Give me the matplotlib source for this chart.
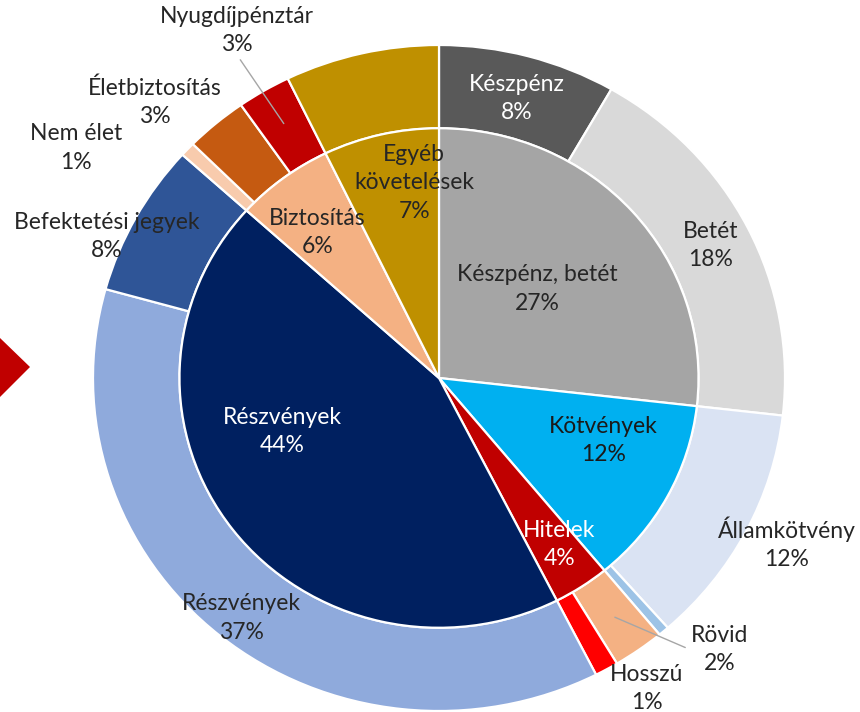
import numpy as np
import matplotlib.pyplot as plt
from matplotlib.patches import Polygon

plt.rcParams['font.family'] = ['Lato', 'DejaVu Sans']

# belso kor (fo kategoriak), szazalek
inner_labels = ["Készpénz, betét\n27%", "Kötvények\n12%", "Hitelek\n4%",
                "Részvények\n44%", "Biztosítás\n6%", "Egyéb\nkövetelések\n7%"]
inner_values = [26.8, 12.2, 3.5, 44.2, 6.1, 7.2]
inner_colors = ["#A5A5A5", "#00B0F0", "#C00000", "#002060", "#F4B183", "#BF9000"]

# kulso gyuru (alkategoriak)
outer_labels = ["Készpénz\n8%", "Betét\n18%", "Államkötvény\n12%", "",
                "Rövid\n2%", "Hosszú\n1%", "Részvények\n37%",
                "Befektetési jegyek\n8%", "Nem élet\n1%", "Életbiztosítás\n3%",
                "Nyugdíjpénztár\n3%", ""]
outer_values = [8.3, 18.5, 11.7, 0.5, 2.4, 1.1, 36.8, 7.4, 0.7, 2.9, 2.5, 7.2]
outer_colors = ["#595959", "#D9D9D9", "#DAE3F3", "#9DC3E6", "#F4B183", "#FF0000",
                "#8FAADC", "#2F5597", "#F8CBAD", "#C55A11", "#C00000", "#BF9000"]

# cimke elhelyezes: (sugar, szog eltolas fokban), szin
inner_pos = [(0.39, 1.5), (0.51, 7), (0.61, 1.5), (0.48, -18), (0.56, 2), (0.59, -6)]
inner_tc = ["#262626", "#1a1a1a", "white", "white", "#262626", "#262626"]
outer_pos = [(0.87, 0), (0.88, 0), (1.12, 1.3), None, (1.15, 9.5), (1.11, 3.8),
             (0.92, 0.8), (1.05, 5), (1.255, 10), (1.167, 4.6), (1.197, -1.2), None]
outer_tc = ["white"] + ["#262626"] * 11
leaders = {4: 0.88, 10: 0.886}   # melyik cimkehez kell vezetovonal

fig = plt.figure(figsize=(8.6, 7.12), dpi=100)
ax = fig.add_axes([0, 0, 1, 1])

ax.pie(outer_values, radius=1.0, colors=outer_colors, startangle=90, counterclock=False,
       wedgeprops=dict(width=0.25, edgecolor="white", linewidth=1.6))
ax.pie(inner_values, radius=0.75, colors=inner_colors, startangle=90, counterclock=False,
       wedgeprops=dict(edgecolor="white", linewidth=1.6))


def mid_angle(values, i):
    cum = np.cumsum([0] + list(values))
    p = (cum[i] + cum[i + 1]) / 2 / cum[-1] * 100
    return 90 - 3.6 * p


fs = 16.5
ls = 1.42
for i, lab in enumerate(inner_labels):
    r, off = inner_pos[i]
    a = np.radians(mid_angle(inner_values, i) + off)
    ax.text(r * np.cos(a), r * np.sin(a), lab, ha="center", va="center",
            fontsize=fs, color=inner_tc[i], linespacing=ls)

for i, lab in enumerate(outer_labels):
    if outer_pos[i] is None:
        continue
    r, off = outer_pos[i]
    m = mid_angle(outer_values, i)
    a = np.radians(m + off)
    tx, ty = r * np.cos(a), r * np.sin(a)
    if i in leaders:
        ra = leaders[i]
        am = np.radians(m)
        rel = (0, 0.5) if i == 4 else (0.5, 0)
        ax.annotate(lab, xy=(ra * np.cos(am), ra * np.sin(am)), xytext=(tx, ty),
                    ha="center", va="center", fontsize=fs, color=outer_tc[i],
                    linespacing=ls,
                    arrowprops=dict(arrowstyle="-", color="#A6A6A6", lw=1,
                                    relpos=rel, shrinkA=2, shrinkB=0))
    else:
        ax.text(tx, ty, lab, ha="center", va="center", fontsize=fs,
                color=outer_tc[i], linespacing=ls)

ax.set_aspect("auto")
ax.set_xlim(-439 / 346, 421 / 346)
ax.set_ylim(-334 / 333, 378 / 333)
ax.axis("off")

# piros nyil a bal szelen
fig.patches.append(Polygon([(-0.04, 1 - 367 / 712), (0, 1 - 338 / 712),
                            (30 / 860, 1 - 367 / 712), (0, 1 - 397 / 712)],
                           closed=True, transform=fig.transFigure,
                           facecolor="#C00000", edgecolor="none"))

fig.savefig("out.png", dpi=100)
